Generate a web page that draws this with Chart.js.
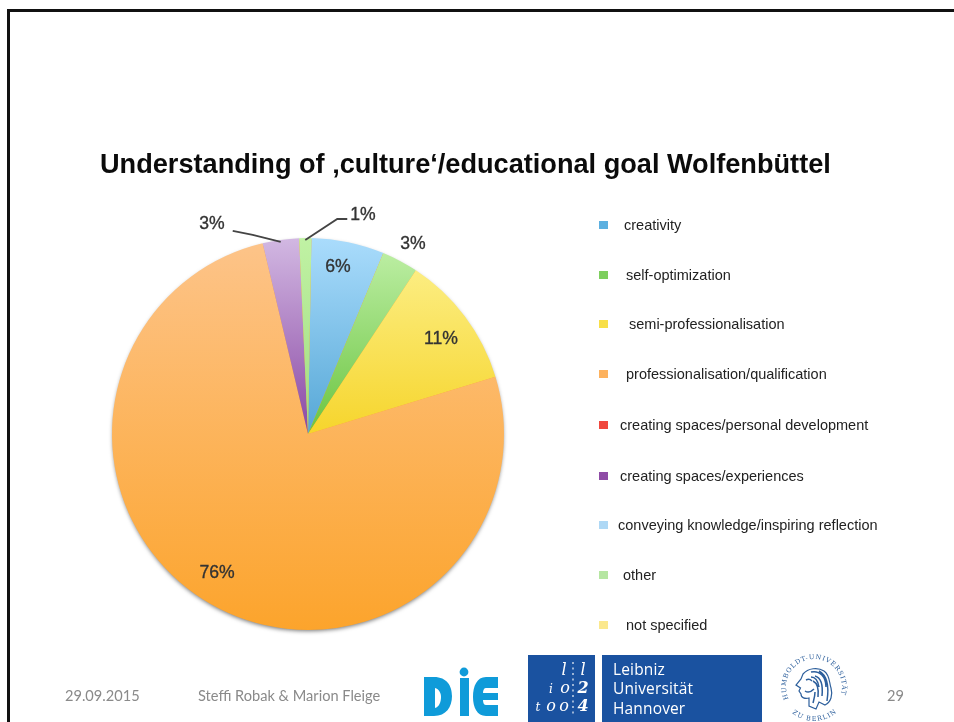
<!DOCTYPE html>
<html>
<head>
<meta charset="utf-8">
<title>Wolfenbüttel</title>
<script src="https://cdn.jsdelivr.net/npm/chart.js@4"></script>
<style>
  html, body { margin: 0; padding: 0; background: #fff; }
  #slide { position: relative; width: 954px; height: 722px; overflow: hidden; background: #fff; }
  #chart { position: absolute; left: 0; top: 0; }
  .bar { position: absolute; background: #111; }
  #heading { position: absolute; left: 100px; top: 148px; white-space: nowrap; color: #0b0b0b;
    font: bold 27.15px "Liberation Sans", Arial, sans-serif; line-height: 32px; }
  .foot { position: absolute; top: 687px; color: #8a8a8a; white-space: nowrap;
    font: 14.6px Lato, sans-serif; line-height: 18px; }
  svg.logo { position: absolute; overflow: visible; }
</style>
</head>
<body>
<div id="slide">
  <canvas id="chart" width="954" height="722"></canvas>
  <div class="bar" style="left:7px;top:9px;width:947px;height:3px"></div>
  <div class="bar" style="left:7px;top:9px;width:3px;height:713px"></div>
  <div id="heading">Understanding of ‚culture‘/educational goal Wolfenbüttel</div>
  <div class="foot" style="left:65px">29.09.2015</div>
  <div class="foot" style="left:198px">Steffi Robak &amp; Marion Fleige</div>
  <div class="foot" style="left:887px">29</div>

  <!-- DIE -->
  <svg class="logo" style="left:424px;top:664px" width="76" height="54" viewBox="0 0 76 54">
    <g fill="#0f9bd9">
      <path d="M0 13 H10 C23 13 28 22 28 32 C28 43 22 52 10 52 H0 Z M11 24 V44 C15 43 17 38 17 33 C17 29 15 25 11 24 Z" fill-rule="evenodd"/>
      <circle cx="40" cy="8" r="4.4"/>
      <rect x="36" y="14" width="9" height="38"/>
      <path d="M74 13 V24 H62 C60 24 59 26 59 29 H74 V36 H59 C59 39 60 41 62 41 H74 V52 H62 C53 52 49 43 49 33 C49 22 53 13 62 13 Z"/>
    </g>
  </svg>

  <!-- Leibniz Universität Hannover -->
  <svg class="logo" style="left:528px;top:655px" width="234" height="67" viewBox="0 0 234 67">
    <rect x="0" y="0" width="67" height="67" fill="#1a52a0"/>
    <rect x="74" y="0" width="160" height="67" fill="#1a52a0"/>
    <g fill="#fff" font-family="'DejaVu Serif', serif" font-style="italic" font-size="16" text-anchor="middle">
      <text x="36" y="20">l</text><text x="55" y="20">l</text>
      <text x="23" y="38" font-size="12">i</text><text x="37" y="38">o</text><text x="55" y="38" font-weight="bold">2</text>
      <text x="10" y="56" font-size="12">t</text><text x="23" y="56">o</text><text x="36" y="56">o</text><text x="55" y="56" font-weight="bold">4</text>
    </g>
    <path d="M45 7 V60" stroke="#fff" stroke-width="1.4" stroke-dasharray="2 3.5" opacity=".8"/>
    <g fill="#fff" font-family="'Open Sans', sans-serif" font-size="15.5" letter-spacing=".15">
      <text x="85" y="20">Leibniz</text>
      <text x="85" y="39">Universität</text>
      <text x="85" y="59">Hannover</text>
    </g>
  </svg>

  <!-- Humboldt-Siegel -->
  <svg class="logo" style="left:772px;top:645px" width="84" height="84" viewBox="0 0 84 84">
    <defs>
      <path id="ringTop" d="M16.6 53.8 A28 28 0 1 1 67.4 53.8"/>
      <path id="ringBottom" d="M18 66 A34 34 0 0 0 66 66"/>
    </defs>
    <g fill="#2d5f9c" font-family="'DejaVu Serif', serif" font-size="6.5">
      <text letter-spacing="0.85"><textPath href="#ringTop">HUMBOLDT-UNIVERSITÄT</textPath></text>
      <text letter-spacing="1.1"><textPath href="#ringBottom" startOffset="3">ZU BERLIN</textPath></text>
    </g>
    <path d="M31 29 C36 23 46 22 52 26 C58 30 57 37 59 43 C61 50 59 57 53 60 L47 57 L44 64 L37 61 L37 53 C33 54 29 53 29 49 L27 46 L28.5 43 L24 40 L29 34 Z" fill="#fff" stroke="#2d5f9c" stroke-width="1.2"/>
    <path d="M39 27 C48 25 54 32 54 42 M43 31 C50 33 51 41 50 51 M47 26 C56 31 57 43 55 56 M41 36 C45 38 47 43 46 52 M39 32 C43 32 46 36 47 42 M34 35 C36 34 38 34 40 36 M33 46 C36 48 39 47 42 44 M43 47 C43 51 42 54 41 58" fill="none" stroke="#2d5f9c" stroke-width="1.5"/>
  </svg>
</div>

<script>
// Anteile in Prozent, Reihenfolge wie in der Legende
var categories = ['creativity', 'self-optimization', 'semi-professionalisation',
    'professionalisation/qualification', 'creating spaces/personal development',
    'creating spaces/experiences', 'conveying knowledge/inspiring reflection',
    'other', 'not specified'];
var values = [6, 3, 11, 76, 0, 3, 0, 1, 0];

var sliceTop = ['#aadcfc', '#c2f1aa', '#fdf292', '#fdc48a', '#fa8a80', '#d2b8e2', '#c6e6fa', '#c0f2a4', '#fdf2b0'];
var sliceBottom = ['#55a7d6', '#6ac440', '#f6d52c', '#fca42c', '#e8352b', '#8a48a4', '#9ccdf0', '#a2dc80', '#f9e27a'];
var swatches = ['#5cb0e0', '#7ecf5e', '#f8df48', '#fdb25e', '#f0483e', '#8f4ca6', '#aed8f5', '#b6e6a2', '#fbe88e'];

// Versatz der Legendentexte und Prozentangaben
var legendTextX = [624, 626, 629, 626, 620, 620, 618, 623, 626];
var legendRowY = [226, 276, 325, 375, 426, 477, 526, 576, 626];
var valueLabelOffset = { 0: [30, -167], 1: [105, -190], 2: [133, -95], 3: [-91, 139], 5: [-96, -210], 7: [55, -219] };
var leaderElbows = { 5: [[-28, -7], [-48, -11]], 7: [[32, -21], [42, -21]] };

function sliceFill(context) {
    var area = context.chart.chartArea;
    if (!area) return sliceBottom[context.dataIndex];
    // nur das grosse Segment laeuft ueber den ganzen Kreis
    var end = context.dataIndex === 3 ? area.bottom : (area.top + area.bottom) / 2;
    var g = context.chart.ctx.createLinearGradient(0, area.top, 0, end);
    g.addColorStop(0, sliceTop[context.dataIndex]);
    g.addColorStop(1, sliceBottom[context.dataIndex]);
    return g;
}

var pieShadow = {
    id: 'pieShadow',
    beforeDatasetsDraw: function (chart) {
        var arc = chart.getDatasetMeta(0).data[0];
        var ctx = chart.ctx;
        ctx.save();
        ctx.shadowColor = 'rgba(0,0,0,0.55)';
        ctx.shadowBlur = 4;
        ctx.shadowOffsetY = 2;
        ctx.fillStyle = '#fca42c';
        ctx.beginPath();
        ctx.arc(arc.x, arc.y, arc.outerRadius - 1, 0, Math.PI * 2);
        ctx.fill();
        ctx.restore();
    }
};

var sliceNotes = {
    id: 'sliceNotes',
    afterDatasetsDraw: function (chart) {
        var ctx = chart.ctx;
        var arcs = chart.getDatasetMeta(0).data;
        ctx.save();
        ctx.textAlign = 'center';
        ctx.textBaseline = 'middle';
        ctx.font = '17.6px "Liberation Sans", Arial, sans-serif';
        values.forEach(function (v, i) {
            if (!v) return;
            var arc = arcs[i];
            if (leaderElbows[i]) {
                var mid = (arc.startAngle + arc.endAngle) / 2;
                var sx = arc.x + Math.cos(mid) * arc.outerRadius;
                var sy = arc.y + Math.sin(mid) * arc.outerRadius + 2;
                ctx.strokeStyle = '#444';
                ctx.lineWidth = 1.8;
                ctx.beginPath();
                ctx.moveTo(sx, sy);
                leaderElbows[i].forEach(function (p) { ctx.lineTo(sx + p[0], sy + p[1]); });
                ctx.stroke();
            }
            var off = valueLabelOffset[i];
            ctx.fillStyle = '#333';
            ctx.strokeStyle = '#333';
            ctx.lineWidth = 0.35;
            ctx.fillText(v + '%', arc.x + off[0], arc.y + off[1]);
            ctx.strokeText(v + '%', arc.x + off[0], arc.y + off[1]);
        });
        ctx.restore();
    }
};

var sideLegend = {
    id: 'sideLegend',
    afterDraw: function (chart) {
        var ctx = chart.ctx;
        ctx.save();
        ctx.textBaseline = 'middle';
        ctx.font = '14.5px "Liberation Sans", Arial, sans-serif';
        categories.forEach(function (name, i) {
            ctx.fillStyle = swatches[i];
            ctx.fillRect(599, legendRowY[i] - 5, 9, 8);
            ctx.fillStyle = '#222';
            ctx.fillText(name, legendTextX[i], legendRowY[i]);
        });
        ctx.restore();
    }
};

var ctx = document.getElementById('chart').getContext('2d');
var myChart = new Chart(ctx, {
    type: 'pie',
    data: {
        labels: categories,
        datasets: [{
            data: values,
            backgroundColor: sliceFill,
            borderWidth: 0
        }]
    },
    options: {
        responsive: false,
        animation: false,
        rotation: 1,
        layout: { padding: { left: 112, top: 238, right: 450, bottom: 92 } },
        plugins: {
            legend: { display: false },
            tooltip: { enabled: false }
        }
    },
    plugins: [pieShadow, sliceNotes, sideLegend]
});
</script>
</body>
</html>
